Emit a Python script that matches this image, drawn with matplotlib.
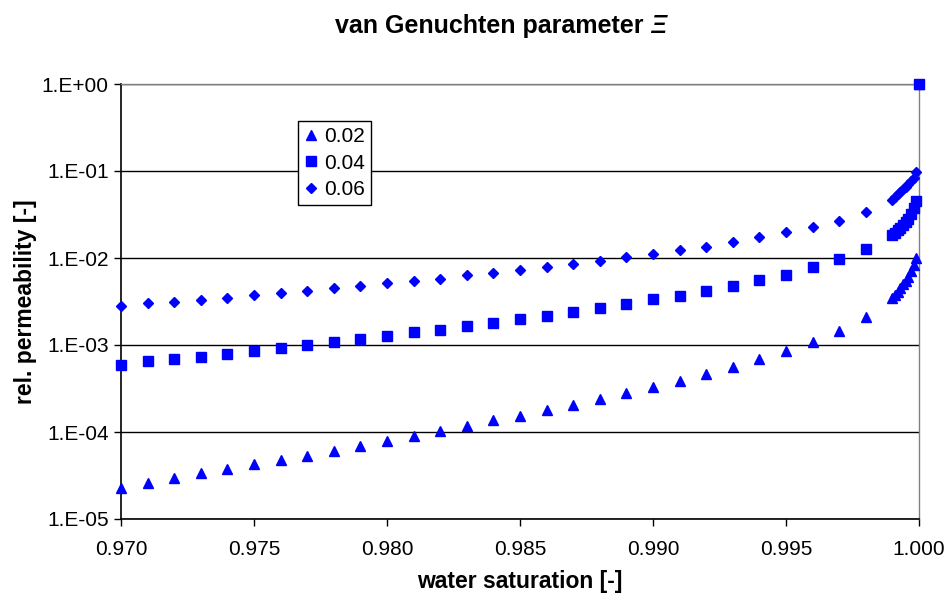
import matplotlib
matplotlib.use("Agg")
import matplotlib.pyplot as plt
from matplotlib.ticker import FixedLocator, FuncFormatter, NullLocator
import numpy as np

plt.rcParams['font.family'] = ['Liberation Sans', 'DejaVu Sans']

# water saturation: 0.970 ... 0.999 in steps of 0.001, then finer up to 1.0
sw = [0.970, 0.971, 0.972, 0.973, 0.974, 0.975, 0.976, 0.977, 0.978, 0.979,
      0.980, 0.981, 0.982, 0.983, 0.984, 0.985, 0.986, 0.987, 0.988, 0.989,
      0.990, 0.991, 0.992, 0.993, 0.994, 0.995, 0.996, 0.997, 0.998, 0.999,
      0.9991, 0.9992, 0.9993, 0.9994, 0.9995, 0.9996, 0.9997, 0.9998, 0.9999,
      1.0]

# relative permeability for parameter 0.02
kr_002 = [2.29e-5, 2.61e-5, 2.94e-5, 3.35e-5, 3.79e-5, 4.25e-5, 4.73e-5, 5.34e-5, 6.05e-5, 6.85e-5,
          7.88e-5, 9.07e-5, 1.04e-4, 1.16e-4, 1.36e-4, 1.54e-4, 1.81e-4, 2.04e-4, 2.39e-4, 2.81e-4,
          3.27e-4, 3.85e-4, 4.64e-4, 5.63e-4, 6.84e-4, 8.53e-4, 1.09e-3, 1.45e-3, 2.08e-3, 3.44e-3,
          3.72e-3, 4.07e-3, 4.57e-3, 5.00e-3, 5.50e-3, 6.00e-3, 7.10e-3, 8.30e-3, 1.00e-2,
          1.0]

# relative permeability for parameter 0.04
kr_004 = [5.84e-4, 6.49e-4, 6.85e-4, 7.28e-4, 7.94e-4, 8.53e-4, 9.31e-4, 9.93e-4, 1.09e-3, 1.16e-3,
          1.28e-3, 1.40e-3, 1.50e-3, 1.64e-3, 1.79e-3, 1.97e-3, 2.17e-3, 2.39e-3, 2.66e-3, 2.96e-3,
          3.35e-3, 3.69e-3, 4.21e-3, 4.81e-3, 5.58e-3, 6.43e-3, 7.81e-3, 9.66e-3, 1.26e-2, 1.84e-2,
          1.95e-2, 2.09e-2, 2.24e-2, 2.40e-2, 2.57e-2, 2.82e-2, 3.24e-2, 3.80e-2, 4.57e-2,
          1.0]

# relative permeability for parameter 0.06
kr_006 = [2.83e-3, 3.01e-3, 3.10e-3, 3.29e-3, 3.50e-3, 3.73e-3, 3.99e-3, 4.21e-3, 4.52e-3, 4.81e-3,
          5.12e-3, 5.44e-3, 5.78e-3, 6.38e-3, 6.78e-3, 7.22e-3, 7.94e-3, 8.47e-3, 9.31e-3, 1.02e-2,
          1.11e-2, 1.23e-2, 1.34e-2, 1.53e-2, 1.73e-2, 1.97e-2, 2.29e-2, 2.68e-2, 3.41e-2, 4.64e-2,
          5.01e-2, 5.37e-2, 5.75e-2, 6.17e-2, 6.53e-2, 7.00e-2, 7.59e-2, 8.41e-2, 9.82e-2,
          1.0]

x_ticks = [0.970, 0.975, 0.980, 0.985, 0.990, 0.995, 1.000]
y_ticks = [1e-5, 1e-4, 1e-3, 1e-2, 1e-1, 1e0]

fig = plt.figure(figsize=(9.46, 5.98), dpi=100)
ax = fig.add_axes([121/946, 1 - 519/598, 798/946, 435/598])

blue = '#0000FF'
ax.plot(sw, kr_002, linestyle='none', marker='^', ms=7.5, color=blue, label='0.02', clip_on=False, zorder=3)
ax.plot(sw, kr_004, linestyle='none', marker='s', ms=7, color=blue, label='0.04', clip_on=False, zorder=3)
ax.plot(sw, kr_006, linestyle='none', marker='D', ms=5.5, color=blue, label='0.06', clip_on=False, zorder=3)

ax.set_yscale('log')
ax.set_xlim(0.970, 1.000)
ax.set_ylim(1e-5, 1e0)

ax.xaxis.set_major_locator(FixedLocator(x_ticks))
ax.xaxis.set_major_formatter(FuncFormatter(lambda v, p: f"{v:.3f}"))
ax.yaxis.set_major_locator(FixedLocator(y_ticks))
ax.yaxis.set_minor_locator(NullLocator())
ax.yaxis.set_major_formatter(FuncFormatter(lambda v, p: f"1.E{int(round(np.log10(v))):+03d}"))
ax.tick_params(axis='both', direction='out', length=5, width=1, labelsize=15, color='black')
ax.tick_params(axis='x', pad=10)
ax.tick_params(axis='y', pad=4)

ax.grid(True, axis='y', color='black', linewidth=1)
ax.set_axisbelow(True)
for side in ['left', 'bottom']:
    ax.spines[side].set_color('black')
    ax.spines[side].set_linewidth(1.2)
for side in ['top', 'right']:
    ax.spines[side].set_color('#808080')
    ax.spines[side].set_linewidth(1)

ax.set_xlabel('water saturation [-]', fontsize=16.5, fontweight='bold', labelpad=8)
ax.set_ylabel('rel. permeability [-]', fontsize=16.5, fontweight='bold', labelpad=3)

# title: bold text followed by an italic Xi, centred as one line
title_x, title_y = 501/946, 1 - 26/598
t_main = fig.text(0, title_y, 'van Genuchten parameter ', fontsize=18, fontweight='bold',
                  ha='left', va='center')
t_sym = fig.text(0, title_y, 'Ξ', fontsize=18, fontweight='bold', fontstyle='italic',
                 ha='left', va='center')
renderer = fig.canvas.get_renderer()
w_main = t_main.get_window_extent(renderer).width / fig.bbox.width
w_sym = t_sym.get_window_extent(renderer).width / fig.bbox.width
x0 = title_x - (w_main + w_sym) / 2
t_main.set_x(x0)
t_sym.set_x(x0 + w_main)

leg = ax.legend(loc='upper left', bbox_to_anchor=((298 - 121)/798, (519 - 121)/435), fontsize=15,
                frameon=True, fancybox=False, edgecolor='black', framealpha=1,
                handlelength=0.6, handletextpad=0.35, borderpad=0.3, labelspacing=0.35,
                borderaxespad=0)
leg.get_frame().set_linewidth(1)

fig.savefig('out.png', dpi=100, facecolor='white')
